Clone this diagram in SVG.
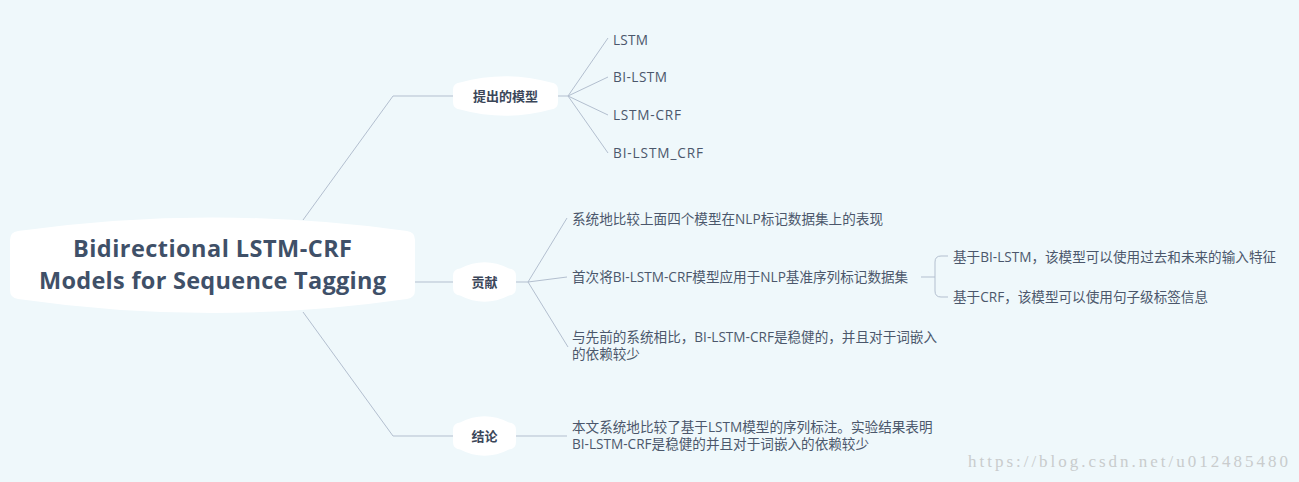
<svg xmlns="http://www.w3.org/2000/svg" width="1299" height="482" viewBox="0 0 1299 482">
<style>
.bg{fill:#eff8fb}
.node{fill:#ffffff}
.conn{fill:none;stroke:#b3bfcf;stroke-width:1}
.title{font-family:"Open Sans","Noto Sans CJK SC",sans-serif;font-weight:700;font-size:23.5px;fill:#3f5068;text-anchor:middle}
.ntext{font-family:"Open Sans","Noto Sans CJK SC",sans-serif;font-weight:700;font-size:13px;fill:#3b4659;text-anchor:middle}
.leaf{font-family:"Open Sans","Noto Sans CJK SC",sans-serif;font-size:13.6px;fill:#4b576b}
.wm{font-family:"Liberation Serif","Noto Sans CJK SC",serif;font-size:17px;fill:#c9cccd}
</style>
<rect class="bg" x="0" y="0" width="1299" height="482"/>

<g id="connectors">
  <polyline class="conn" points="303,220 393,96 453,96"/>
  <line class="conn" x1="415" y1="282" x2="453" y2="282"/>
  <polyline class="conn" points="303,312 393,436 453,436"/>
  <line class="conn" x1="558" y1="96" x2="568" y2="96"/>
  <line class="conn" x1="568" y1="96" x2="608" y2="38"/>
  <line class="conn" x1="568" y1="96" x2="608" y2="77"/>
  <line class="conn" x1="568" y1="96" x2="608" y2="115"/>
  <line class="conn" x1="568" y1="96" x2="608" y2="153"/>
  <line class="conn" x1="516" y1="282" x2="528" y2="282"/>
  <line class="conn" x1="528" y1="282" x2="567" y2="218"/>
  <line class="conn" x1="528" y1="282" x2="567" y2="277"/>
  <line class="conn" x1="528" y1="282" x2="568" y2="347"/>
  <line class="conn" x1="921" y1="277" x2="935" y2="277"/>
  <path class="conn" d="M948,256 L941,256 Q935,256 935,262 L935,291 Q935,297 941,297 L948,297"/>
  <line class="conn" x1="516" y1="436" x2="567" y2="436"/>
</g>

<g id="root">
  <path class="node" d="M10,240 Q10,232 18,231 Q212.5,204 407,231 Q415,232 415,240 L415,290 Q415,298 407,299 Q212.5,327 18,299 Q10,298 10,290 Z"/>
  <text class="title" x="212.5" y="257" textLength="279">Bidirectional LSTM-CRF</text>
  <text class="title" x="212.5" y="289" textLength="347">Models for Sequence Tagging</text>
</g>

<g id="n-models">
  <path class="node" d="M453,90 Q453,83 460,82.5 Q505.5,70 551,82.5 Q558,83 558,90 L558,102 Q558,109 551,109.5 Q505.5,122 460,109.5 Q453,109 453,102 Z"/>
  <text class="ntext" x="505.5" y="101">提出的模型</text>
</g>
<g id="leaf-lstm"><text class="leaf" x="613" y="45" textLength="35">LSTM</text></g>
<g id="leaf-bilstm"><text class="leaf" x="613" y="82" textLength="54">BI-LSTM</text></g>
<g id="leaf-lstmcrf"><text class="leaf" x="613" y="120" textLength="68">LSTM-CRF</text></g>
<g id="leaf-bilstmcrf"><text class="leaf" x="613" y="158" textLength="90">BI-LSTM_CRF</text></g>

<g id="n-contrib">
  <path class="node" d="M453,276 Q453,269 460,268.5 Q484.5,256 509,268.5 Q516,269 516,276 L516,288 Q516,295 509,295.5 Q484.5,308 460,295.5 Q453,295 453,288 Z"/>
  <text class="ntext" x="484.5" y="287">贡献</text>
</g>
<g id="c1"><text class="leaf" x="572" y="224">系统地比较上面四个模型在NLP标记数据集上的表现</text></g>
<g id="c2"><text class="leaf" x="572" y="282">首次将BI-LSTM-CRF模型应用于NLP基准序列标记数据集</text></g>
<g id="c2a"><text class="leaf" x="953" y="262">基于BI-LSTM，该模型可以使用过去和未来的输入特征</text></g>
<g id="c2b"><text class="leaf" x="953" y="302">基于CRF，该模型可以使用句子级标签信息</text></g>
<g id="c3">
  <text class="leaf" x="572" y="342">与先前的系统相比，BI-LSTM-CRF是稳健的，并且对于词嵌入</text>
  <text class="leaf" x="572" y="359">的依赖较少</text>
</g>

<g id="n-concl">
  <path class="node" d="M453,430 Q453,423 460,422.5 Q484.5,410 509,422.5 Q516,423 516,430 L516,442 Q516,449 509,449.5 Q484.5,462 460,449.5 Q453,449 453,442 Z"/>
  <text class="ntext" x="484.5" y="441">结论</text>
</g>
<g id="concl-text">
  <text class="leaf" x="572" y="432">本文系统地比较了基于LSTM模型的序列标注。实验结果表明</text>
  <text class="leaf" x="572" y="449">BI-LSTM-CRF是稳健的并且对于词嵌入的依赖较少</text>
</g>

<text class="wm" x="968" y="467" textLength="320">https://blog.csdn.net/u012485480</text>
</svg>
